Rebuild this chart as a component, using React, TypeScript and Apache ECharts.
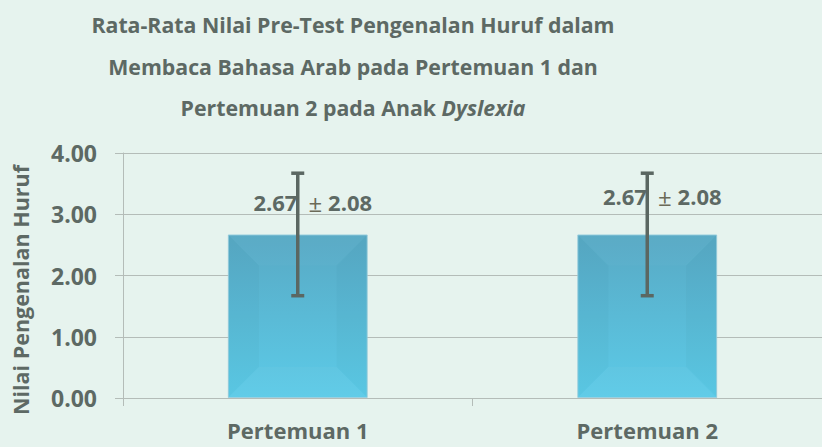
import React, { useEffect, useRef } from "react";
import * as echarts from "echarts";

const categories = ["Pertemuan 1", "Pertemuan 2"];
const means = [2.67, 2.67];
const errorBars = [1.0, 1.0];
const sdLabels = ["2.08", "2.08"];
const meanLabels = ["2.67", "2.67"];
const titleLines = [
  "Rata-Rata Nilai Pre-Test Pengenalan Huruf dalam",
  "Membaca Bahasa Arab pada Pertemuan 1 dan",
  "Pertemuan 2 pada Anak ",
];
const titleItalic = "Dyslexia";
const yAxisName = "Nilai Pengenalan Huruf";

const TEXT = "#5d6964";
const FONT = "'Open Sans', 'Noto Sans', sans-serif";

export default function App() {
  const ref = useRef<HTMLDivElement>(null);
  useEffect(() => {
    document.body.style.margin = "0";
    const chart = echarts.init(ref.current!, null, { renderer: "svg" });
    const labelOffsets = [
      [15, 0],
      [15, -6],
    ];
    const option: any = {
      animation: false,
      backgroundColor: "#e6f3ee",
      textStyle: { fontFamily: FONT },
      grid: { left: 123, top: 153, width: 708, height: 245, containLabel: false },
      xAxis: {
        type: "category",
        data: categories,
        axisLine: { lineStyle: { color: "#b4bcb8", width: 1 } },
        axisTick: { show: true, length: 8, lineStyle: { color: "#b4bcb8" } },
        axisLabel: {
          color: TEXT,
          fontFamily: FONT,
          fontWeight: "bold",
          fontSize: 22,
          margin: 21,
        },
      },
      yAxis: {
        type: "value",
        min: 0,
        max: 4,
        interval: 1,
        axisLine: { show: true, lineStyle: { color: "#b4bcb8", width: 1 } },
        axisTick: { show: true, length: 8, lineStyle: { color: "#b4bcb8" } },
        splitLine: { lineStyle: { color: "#b4bcb8", width: 1 } },
        axisLabel: {
          color: TEXT,
          fontFamily: FONT,
          fontWeight: "bold",
          fontSize: 23,
          margin: 26,
          formatter: (v: number) => v.toFixed(2),
        },
      },
      graphic: [
        {
          type: "text",
          x: 353,
          y: 4,
          style: {
            text:
              titleLines[0] +
              "\n" +
              titleLines[1] +
              "\n" +
              titleLines[2] +
              "{i|" +
              titleItalic +
              "}",
            fill: TEXT,
            font: `bold 21.3px ${FONT}`,
            align: "center",
            verticalAlign: "top",
            lineHeight: 41.5,
            rich: {
              i: {
                fontStyle: "italic",
                fontWeight: "bold",
                fontSize: 21.3,
                fontFamily: FONT,
                fill: TEXT,
                lineHeight: 41.5,
              },
            },
          },
        },
        {
          type: "text",
          x: 20,
          y: 290,
          rotation: Math.PI / 2,
          style: {
            text: yAxisName,
            fill: TEXT,
            font: `bold 21.5px ${FONT}`,
            align: "center",
            verticalAlign: "middle",
          },
        },
      ],
      series: [
        {
          type: "bar",
          data: means.map((m, i) => ({
            value: m,
            label: { offset: labelOffsets[i] },
          })),
          barWidth: "40%",
          itemStyle: {
            color: new echarts.graphic.LinearGradient(0, 0, 0, 1, [
              { offset: 0, color: "#58a9c4" },
              { offset: 1, color: "#5ccbe8" },
            ]),
            borderColor: "rgba(150,205,222,0.9)",
            borderWidth: 1,
          },
          label: {
            show: true,
            position: "top",
            distance: 20,
            formatter: (p: any) =>
              `{a|${meanLabels[p.dataIndex]}}{b|±}{a|${sdLabels[p.dataIndex]}}`,
            rich: {
              a: {
                color: TEXT,
                fontFamily: FONT,
                fontWeight: "bold",
                fontSize: 22,
              },
              b: {
                color: "#6b6a58",
                fontFamily: FONT,
                fontWeight: "normal",
                fontSize: 24,
                padding: [0, 6, 0, 11],
              },
            },
          },
          z: 2,
        },
        {
          type: "custom",
          z: 3,
          data: means.map((m, i) => [i, m]),
          renderItem: (params: any, api: any) => {
            const i = api.value(0);
            const m = api.value(1);
            const bw = api.size([1, 0])[0] * 0.4;
            const top = api.coord([i, m]);
            const base = api.coord([i, 0]);
            const x0 = top[0] - bw / 2;
            const x1 = top[0] + bw / 2;
            const y0 = top[1];
            const y1 = base[1];
            const b = 31;
            return {
              type: "group",
              children: [
                {
                  type: "polygon",
                  shape: { points: [[x0, y0], [x1, y0], [x1 - b, y0 + b], [x0 + b, y0 + b]] },
                  style: { fill: "rgba(255,255,255,0.025)" },
                },
                {
                  type: "polygon",
                  shape: { points: [[x0, y0], [x0 + b, y0 + b], [x0 + b, y1 - b], [x0, y1]] },
                  style: { fill: "rgba(0,40,60,0.025)" },
                },
                {
                  type: "polygon",
                  shape: { points: [[x1, y0], [x1 - b, y0 + b], [x1 - b, y1 - b], [x1, y1]] },
                  style: { fill: "rgba(0,40,60,0.025)" },
                },
                {
                  type: "polygon",
                  shape: { points: [[x0, y1], [x0 + b, y1 - b], [x1 - b, y1 - b], [x1, y1]] },
                  style: { fill: "rgba(255,255,255,0.03)" },
                },
              ],
            };
          },
        },
        {
          type: "custom",
          z: 4,
          data: means.map((m, i) => [i, m - errorBars[i], m + errorBars[i]]),
          renderItem: (params: any, api: any) => {
            const i = api.value(0);
            const lo = api.coord([i, api.value(1)]);
            const hi = api.coord([i, api.value(2)]);
            const cap = 6.5;
            const st = { stroke: "#5b6762", lineWidth: 3.5 };
            return {
              type: "group",
              children: [
                { type: "line", shape: { x1: hi[0], y1: hi[1], x2: lo[0], y2: lo[1] }, style: st },
                { type: "line", shape: { x1: hi[0] - cap, y1: hi[1], x2: hi[0] + cap, y2: hi[1] }, style: st },
                { type: "line", shape: { x1: lo[0] - cap, y1: lo[1], x2: lo[0] + cap, y2: lo[1] }, style: st },
              ],
            };
          },
        },
      ],
    };
    chart.setOption(option);
    return () => chart.dispose();
  }, []);
  return <div ref={ref} style={{ width: 822, height: 447 }} />;
}
